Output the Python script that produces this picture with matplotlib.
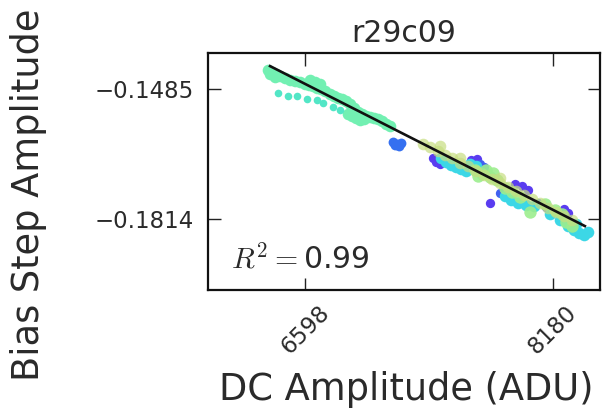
import numpy as np
import matplotlib
matplotlib.use("Agg")
import matplotlib.pyplot as plt

plt.rcParams["mathtext.fontset"] = "cm"
plt.rcParams["font.family"] = ["DejaVu Sans"]

title = "r29c09"
x_label = "DC Amplitude (ADU)"
y_label = "Bias Step Amplitude"
r_squared = 0.99

x_ticks = [6598, 8180]
y_ticks = [-0.1485, -0.1814]
x_limits = (5979, 8480)
y_limits = (-0.1994, -0.1394)

# linear fit of bias step amplitude vs DC level
fit_slope = -2.016e-5
fit_intercept = -0.01419
fit_x = [6375, 8384]

# per-run measurements
aqua_x = [6362, 6387, 6413, 6438, 6470, 6502, 6534, 6566, 6598, 6624, 6649, 6675,
          6700, 6726, 6757, 6783, 6809, 6834, 6860, 6885, 6911, 6936, 6962, 6987,
          7013, 7038, 7064, 7089, 7115, 7140, 6872, 6898, 6923, 6949, 6974, 6630,
          6662, 6694, 6375, 6407]
aqua_y = [-0.1437, -0.1442, -0.1447, -0.1452, -0.1457, -0.1462, -0.1465, -0.1467,
          -0.1472, -0.1475, -0.1477, -0.1482, -0.1485, -0.1490, -0.1498, -0.1503,
          -0.1508, -0.1510, -0.1515, -0.1523, -0.1533, -0.1543, -0.1548, -0.1553,
          -0.1556, -0.1558, -0.1561, -0.1566, -0.1574, -0.1579, -0.1548, -0.1553,
          -0.1558, -0.1563, -0.1561, -0.1462, -0.1467, -0.1472, -0.1447, -0.1455]

teal_x = [6426, 6490, 6547, 6611, 6675, 6713, 6777, 6821]
teal_y = [-0.1495, -0.1503, -0.1503, -0.1510, -0.1513, -0.1520, -0.1531, -0.1538]

blue_x = [7159, 7185, 7210, 7198, 7172]
blue_y = [-0.1619, -0.1624, -0.1622, -0.1629, -0.1627]

olive_x = [7351, 7396, 7447, 7491, 7536, 7587, 7638, 7689, 7740, 7791, 7842, 7893,
           7944, 7995, 8046, 8097, 8148, 8199, 8250, 8301, 7459, 7587, 7842]
olive_y = [-0.1624, -0.1632, -0.1642, -0.1652, -0.1660, -0.1672, -0.1680, -0.1693,
           -0.1703, -0.1713, -0.1723, -0.1733, -0.1743, -0.1753, -0.1763, -0.1774,
           -0.1786, -0.1796, -0.1806, -0.1817, -0.1629, -0.1660, -0.1710]

lime_x = [7682, 7727, 7778, 7823, 7752, 7874, 7919, 7970, 8033, 8129, 8193, 8237,
          8263, 8301, 7705, 7800]
lime_y = [-0.1690, -0.1700, -0.1708, -0.1715, -0.1690, -0.1736, -0.1746, -0.1758,
          -0.1796, -0.1776, -0.1791, -0.1801, -0.1822, -0.1832, -0.1705, -0.1698]

cyan_x = [7466, 7497, 7529, 7561, 7593, 7625, 7651, 7689, 7874, 7912, 7957, 8008,
          8059, 8161, 8225, 8276, 8314, 8346, 8378, 8403, 8327]
cyan_y = [-0.1660, -0.1670, -0.1677, -0.1682, -0.1687, -0.1693, -0.1675, -0.1680,
          -0.1756, -0.1766, -0.1774, -0.1779, -0.1781, -0.1801, -0.1817, -0.1832,
          -0.1842, -0.1850, -0.1855, -0.1847, -0.1827]

indigo_x = [7415, 7434, 7459, 7657, 7695, 7778, 7938, 7982, 8021, 8250, 8276, 8135]
indigo_y = [-0.1660, -0.1670, -0.1675, -0.1665, -0.1662, -0.1774, -0.1725, -0.1730,
            -0.1741, -0.1789, -0.1799, -0.1784]

royal_x = [7714, 7740, 7842, 8084]
royal_y = [-0.1675, -0.1682, -0.1748, -0.1774]

series = [
    (aqua_x, aqua_y, "#72f0b2", 70, 1.0),
    (teal_x, teal_y, "#52e6c6", 30, 1.0),
    (blue_x, blue_y, "#3570f0", 50, 1.0),
    (indigo_x, indigo_y, "#5a3cf0", 45, 1.0),
    (royal_x, royal_y, "#4060f0", 45, 1.0),
    (cyan_x, cyan_y, "#3cd7e6", 70, 1.0),
    (lime_x, lime_y, "#9cee8e", 80, 0.9),
    (olive_x, olive_y, "#c6de80", 70, 0.7),
]

fig = plt.figure(figsize=(6.03, 4.12), dpi=100, facecolor="white")
ax = fig.add_axes([0.3449, 0.2961, 0.650, 0.5752])

for xs, ys, color, size, alpha in series:
    ax.scatter(xs, ys, s=size, c=color, alpha=alpha, linewidths=0, zorder=2)

fx = np.array(fit_x, dtype=float)
ax.plot(fx, np.polyval([fit_slope, fit_intercept], fx), color="#111111", lw=1.9, zorder=3)

ax.set_xlim(*x_limits)
ax.set_ylim(*y_limits)
ax.set_xticks(x_ticks)
ax.set_yticks(y_ticks)
ax.set_xticklabels([str(v) for v in x_ticks], rotation=45, ha="center")
ax.set_yticklabels(["\u2212%.4f" % abs(v) for v in y_ticks])
ax.tick_params(direction="in", length=9, width=1.0, top=True, right=True,
               labelsize=16.5, pad=10, colors="#222222", labelcolor="#2a2a2a")
ax.tick_params(axis="x", pad=8)
for sp in ax.spines.values():
    sp.set_linewidth(1.6)
    sp.set_color("#111111")

ax.set_title(title, fontsize=21.5, pad=8, color="#2a2a2a")
ax.text(0.06, 0.065, r"$R^2=$" + "%.2f" % r_squared, transform=ax.transAxes,
        fontsize=21.5, ha="left", va="bottom", color="#2a2a2a")

fig.text(29 / 603, 1 - 195 / 412, y_label, rotation=90, fontsize=26.5,
         ha="center", va="center", color="#2a2a2a")
fig.text(406 / 603, 1 - 390 / 412, x_label, fontsize=26.5,
         ha="center", va="center", color="#2a2a2a")

fig.savefig("out.png", dpi=100, facecolor="white")
